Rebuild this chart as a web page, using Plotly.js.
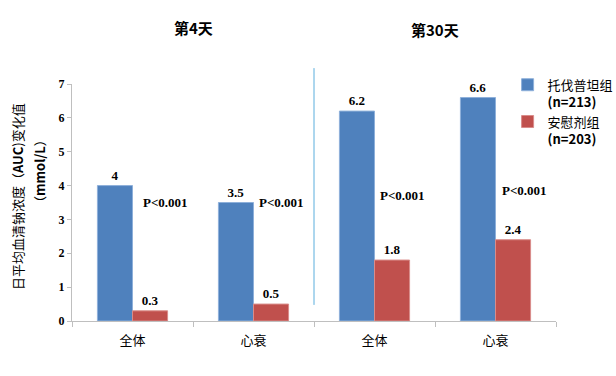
<!DOCTYPE html>
<html>
<head>
<meta charset="utf-8">
<script src="https://cdn.plot.ly/plotly-3.0.1.min.js"></script>
<style>html,body{margin:0;padding:0;background:#fff;}#chart{width:616px;height:376px;}</style>
</head>
<body>
<div id="chart"></div>
<script>
// Data
const categories = ["全体", "心衰", "全体", "心衰"];
const periods = ["第4天", "第30天"];
const tolvaptan = [4, 3.5, 6.2, 6.6];
const placebo = [0.3, 0.5, 1.8, 2.4];
const pLabels = ["P<0.001", "P<0.001", "P<0.001", "P<0.001"];
const pYs = [3.5, 3.5, 3.7, 3.85];
const seriesNames = ["托伐普坦组<br><b>(n=213)</b>", "安慰剂组<br><b>(n=203)</b>"];

// layout helpers (offsets of the P labels from each category centre)
const pOffsets = [0.07, 0.03, 0.03, 0.04];

const xs = categories.map((c, i) => i);
const numFont = {family: "Liberation Serif, Times New Roman, serif", size: 13, color: "#000"};
const cjk = "Noto Sans CJK SC, Liberation Sans, sans-serif";

const traces = [
  {type: "bar", x: xs, y: tolvaptan, name: seriesNames[0],
   marker: {color: "#4F81BD", line: {color: "#8EB0DA", width: 1}},
   text: tolvaptan.map(v => "<b>" + v + "</b>"), textposition: "outside",
   textfont: numFont, cliponaxis: false},
  {type: "bar", x: xs, y: placebo, name: seriesNames[1],
   marker: {color: "#C0504D", line: {color: "#D98C8A", width: 1}},
   text: placebo.map(v => "<b>" + v + "</b>"), textposition: "outside",
   textfont: numFont, cliponaxis: false},
  // invisible trace on overlay axis to draw boundary ticks
  {type: "scatter", x: [-0.5, 3.5], y: [0, 0], xaxis: "x2", mode: "none",
   showlegend: false, hoverinfo: "skip"}
];

const annotations = [];
pLabels.forEach((p, i) => {
  annotations.push({x: xs[i] + pOffsets[i], y: pYs[i], xref: "x", yref: "y", text: "<b>" + p + "</b>",
    showarrow: false, xanchor: "left", yanchor: "middle", font: numFont});
});
annotations.push({x: 0.5, y: 1.24, xref: "x", yref: "paper", text: "<b>" + periods[0] + "</b>",
  showarrow: false, xanchor: "center", yanchor: "middle", font: {family: cjk, size: 15, color: "#000"}});
annotations.push({x: 2.5, y: 1.228, xref: "x", yref: "paper", text: "<b>" + periods[1] + "</b>",
  showarrow: false, xanchor: "center", yanchor: "middle", font: {family: cjk, size: 15, color: "#000"}});
annotations.push({x: -0.1136, y: 0.523, xref: "paper", yref: "paper", textangle: -90,
  xanchor: "center", yanchor: "middle",
  text: "日平均血清钠浓度（<b>AUC</b>)变化值", showarrow: false,
  font: {family: cjk, size: 13, color: "#000"}});
annotations.push({x: -0.066, y: 0.633, xref: "paper", yref: "paper", textangle: -90,
  xanchor: "center", yanchor: "middle",
  text: "（<b>mmol/L</b>）", showarrow: false,
  font: {family: cjk, size: 13, color: "#000"}});

const layout = {
  width: 616, height: 376,
  margin: {l: 72, r: 60, t: 84, b: 55, autoexpand: false},
  paper_bgcolor: "#fff", plot_bgcolor: "#fff",
  barmode: "group", bargap: 0.42, bargroupgap: 0,
  showlegend: true,
  legend: {x: 0.9, y: 1.06, xanchor: "left", yanchor: "top", valign: "top",
    font: {family: cjk, size: 13, color: "#000"}, tracegroupgap: 4, bgcolor: "rgba(0,0,0,0)"},
  xaxis: {range: [-0.5, 3.5], tickvals: xs, ticktext: categories, ticks: "",
    showline: true, linecolor: "#BFBFBF", linewidth: 1, showgrid: false, zeroline: false,
    ticklabelstandoff: 7,
    tickfont: {family: cjk, size: 13, color: "#000"}, fixedrange: true},
  xaxis2: {range: [-0.5, 3.5], overlaying: "x", anchor: "y", side: "bottom",
    tickvals: [-0.5, 0.5, 1.5, 2.5, 3.5], ticks: "outside", ticklen: 5, tickcolor: "#BFBFBF",
    showticklabels: false, showline: false, showgrid: false, zeroline: false},
  yaxis: {range: [0, 7], dtick: 1, ticks: "outside", ticklen: 4, tickcolor: "#BFBFBF",
    showline: true, linecolor: "#BFBFBF", linewidth: 1, showgrid: false, zeroline: false,
    tickfont: {family: "Liberation Serif, Times New Roman, serif", size: 12, color: "#000", weight: "bold"},
    tickformat: "d"},
  shapes: [{type: "line", xref: "x", yref: "paper", x0: 1.5, x1: 1.5, y0: 0.068, y1: 1.067,
    line: {color: "#5AAEDD", width: 1}}],
  annotations: annotations
};

Plotly.newPlot("chart", traces, layout, {displayModeBar: false, staticPlot: true});
</script>
</body>
</html>
